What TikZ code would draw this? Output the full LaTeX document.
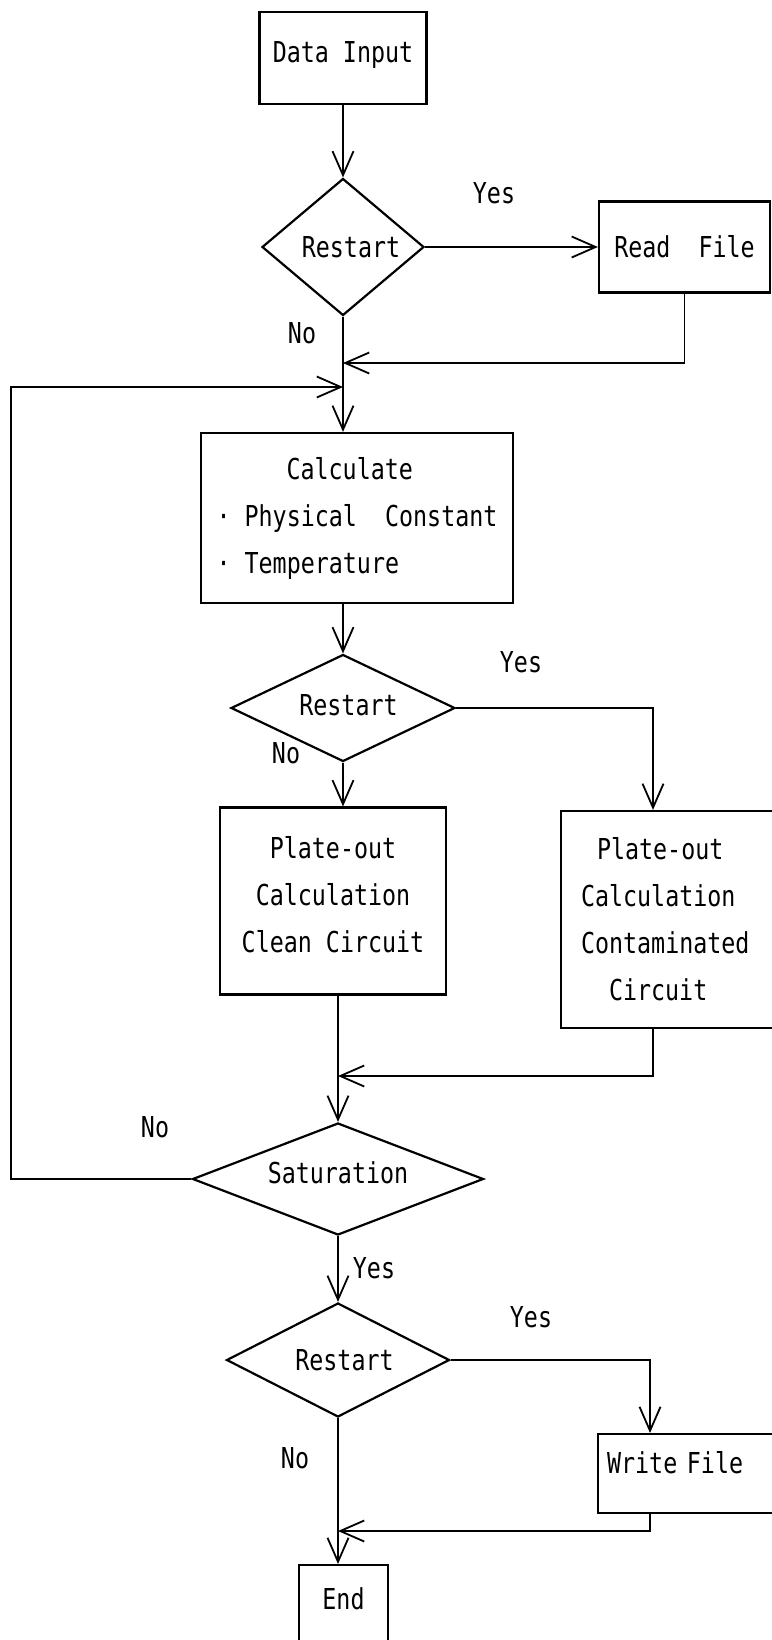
\documentclass[tikz,border=0pt]{standalone}
\usepackage{fontspec}
\newfontfamily\flowfont{DejaVu Sans Mono}[FakeStretch=0.81]
\usetikzlibrary{arrows.meta,shapes.geometric}

\begin{document}
\begin{tikzpicture}[x=1pt,y=-1pt,->,>={Straight Barb[length=24pt,width=21pt]},
  line width=1.8pt,font=\flowfont\fontsize{28.8}{47}\selectfont,
  one line/.style={text height=21pt,text depth=0pt},
  proc box/.style={rectangle,draw,line width=2.2pt,inner sep=0pt,align=center},
  test node/.style={diamond,draw,line width=2.2pt,inner sep=0pt,one line},
  answer/.style={inner sep=0pt,one line}]
  \useasboundingbox (0,0) rectangle (771,1640);
  % process boxes
  \node[proc box,one line,text depth=12pt,minimum width=167pt,minimum height=92pt] (input) at (343,58) {Data Input};
  \node[proc box,one line,minimum width=171pt,minimum height=91pt] (readf) at (684.5,247) {Read~~File};
  \node[proc box,align=left,minimum width=312pt,minimum height=170pt] (calc) at (357,518)
    {\hspace*{70pt}Calculate\\· Physical~~Constant\\· Temperature\rule[-6pt]{0pt}{6pt}};
  \node[proc box,minimum width=226pt,minimum height=187pt] (clean) at (333,901)
    {Plate-out\\Calculation\\Clean Circuit\rule[-14pt]{0pt}{14pt}};
  \node[proc box,align=left,text width=190pt,inner xsep=20pt,minimum height=217pt] (contam) at (676,919.5)
    {\hspace*{16pt}Plate-out\\Calculation\\Contaminated\\\hspace*{28pt}Circuit};
  \node[proc box,one line,text depth=21pt,anchor=north west,align=left,text width=172pt,inner xsep=9pt,minimum height=79pt] (write) at (597,1433) {Write File};
  \node[proc box,anchor=north,text height=44.5pt,text depth=60pt,minimum width=89pt] (endbox) at (343.5,1564) {End};
  % decisions
  \node[test node,aspect=1.18,minimum width=162pt,minimum height=137pt] (restartA) at (343,247) {\hspace*{16pt}Restart};
  \node[test node,aspect=2.09,minimum width=224pt,minimum height=107pt,text depth=6pt] (restartB) at (343,708) {\hspace*{11pt}Restart};
  \node[test node,aspect=2.6,minimum width=291pt,minimum height=112pt,text depth=12pt] (sat) at (338,1179) {Saturation};
  \node[test node,aspect=1.96,minimum width=223pt,minimum height=114pt] (restartC) at (338,1360) {\hspace*{13pt}Restart};
  % answers
  \node[answer] (yesA) at (494,193) {Yes};
  \node[answer] (noA) at (302,333) {No};
  \node[answer] (yesB) at (521,662) {Yes};
  \node[answer] (noB) at (286,753) {No};
  \node[answer] (noC) at (155,1127) {No};
  \node[answer] (yesC) at (374,1268) {Yes};
  \node[answer] (yesD) at (531,1317) {Yes};
  \node[answer] (noD) at (295,1458) {No};
  % joints
  \coordinate (j1) at (343,363);
  \coordinate (j2) at (343,387);
  \coordinate (loopc) at (11,387);
  \coordinate (rcol) at (653,0);
  \coordinate (j3) at (338,1076);
  \coordinate (wcol) at (650,0);
  \coordinate (j4) at (338,1531);
  % connectors
  \draw (input) -- (restartA);
  \draw (restartA) -- (readf);
  \draw (readf.south) |- (j1);
  \draw (restartA) -- (restartA |- calc.north);
  \draw (sat) -| (loopc) -- (j2);
  \draw (calc.south -| restartB) -- (restartB);
  \draw (restartB) -| (rcol |- contam.north);
  \draw (restartB) -- (restartB |- clean.north);
  \draw (rcol |- contam.south) |- (j3);
  \draw (clean.south -| sat) -- (sat);
  \draw (sat) -- (restartC);
  \draw (restartC) -| (wcol |- write.north);
  \draw (wcol |- write.south) |- (j4);
  \draw (restartC) -- (restartC |- endbox.north);
\end{tikzpicture}
\end{document}
